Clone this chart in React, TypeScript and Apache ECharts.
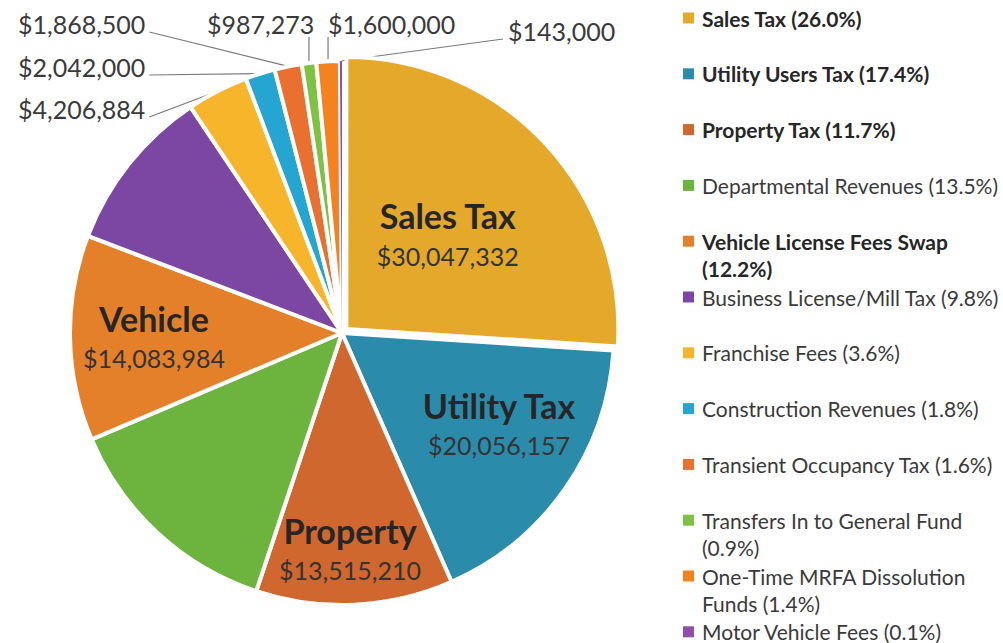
import React, { useEffect, useRef } from "react";
import * as echarts from "echarts";

// ---------- data ----------
const categories = [
  "Sales Tax",
  "Utility Users Tax",
  "Property Tax",
  "Departmental Revenues",
  "Vehicle License Fees Swap",
  "Business License/Mill Tax",
  "Franchise Fees",
  "Construction Revenues",
  "Transient Occupancy Tax",
  "Transfers In to General Fund",
  "One-Time MRFA Dissolution Funds",
  "Motor Vehicle Fees",
];
const values = [
  30047332, 20056157, 13515210, 15590000, 14083984, 11310000, 4206884, 2042000,
  1868500, 987273, 1600000, 143000,
];
const legendPercents = [
  "26.0%", "17.4%", "11.7%", "13.5%", "12.2%", "9.8%", "3.6%", "1.8%", "1.6%",
  "0.9%", "1.4%", "0.1%",
];
// legend text with the original line breaks
const legendLabels = [
  "Sales Tax (26.0%)",
  "Utility Users Tax (17.4%)",
  "Property Tax (11.7%)",
  "Departmental Revenues (13.5%)",
  "Vehicle License Fees Swap\n(12.2%)",
  "Business License/Mill Tax (9.8%)",
  "Franchise Fees (3.6%)",
  "Construction Revenues (1.8%)",
  "Transient Occupancy Tax (1.6%)",
  "Transfers In to General Fund\n(0.9%)",
  "One-Time MRFA Dissolution\nFunds (1.4%)",
  "Motor Vehicle Fees (0.1%)",
];
const legendBold = [true, true, true, false, true, false, false, false, false, false, false, false];
// short names written inside the big slices ("" = none)
const sliceNames = ["Sales Tax", "Utility Tax", "Property", "", "Vehicle", "", "", "", "", "", "", ""];
// which slices carry a label: "inside", "outside" or "none"
const labelKinds = [
  "inside", "inside", "inside", "none", "inside", "none",
  "outside", "outside", "outside", "outside", "outside", "outside",
];

// ---------- styles / layout ----------
const colors = [
  "#E4A92A", "#2B8BAB", "#D0672F", "#6DB43F", "#E5802A", "#7B47A2",
  "#F7B52B", "#24A5D2", "#E9702F", "#7DC243", "#F4821F", "#8E4FA8",
];
const FONT = "Lato";
const CENTER = [342, 333];
const RADIUS = 272;

// label placement (layout only)
const labelSpots: Record<number, any> = {
  0: { x: 484, y: 228, kind: "inside" },
  1: { x: 499, y: 423, kind: "inside" },
  2: { x: 350, y: 548, kind: "inside" },
  4: { x: 154, y: 336, kind: "inside" },
  6: { x: 18, y: 109, kind: "outside", anchor: "right" },
  7: { x: 18, y: 67, kind: "outside", anchor: "right" },
  8: { x: 18, y: 24, kind: "outside", anchor: "right" },
  9: { x: 207, y: 24, kind: "outside", anchor: "below" },
  10: { x: 328, y: 24, kind: "outside", anchor: "below" },
  11: { x: 508, y: 31, kind: "outside", anchor: "left" },
};

const fmtMoney = (v: number) => "$" + v.toLocaleString("en-US");

export default function App() {
  const ref = useRef<HTMLDivElement>(null);

  useEffect(() => {
    if (!ref.current) return;
    const chart = echarts.init(ref.current, undefined, { renderer: "svg" });

    const rich = {
      n: { fontFamily: FONT, fontSize: 34, fontWeight: "bold", color: "#262626", lineHeight: 44 },
      v: { fontFamily: FONT, fontSize: 25, color: "#333333", lineHeight: 36 },
    };

    const data = categories.map((name, i) => {
      const item: any = {
        name,
        value: values[i],
        itemStyle: { color: colors[i] },
      };
      if (i === 0) item.selected = true;
      if (i === categories.length - 1) item.itemStyle.borderWidth = 0;
      const kind = labelKinds[i];
      if (kind === "inside") {
        item.label = {
          show: true,
          position: "inside",
          formatter: `{n|${sliceNames[i]}}\n{v|${fmtMoney(values[i])}}`,
          rich,
        };
        item.labelLine = { show: false };
      } else if (kind === "none") {
        item.label = { show: false };
        item.labelLine = { show: false };
      }
      return item;
    });

    const legendGraphics: any[] = [];
    const rowTop = 18;
    const rowPitch = 55.8;
    legendLabels.forEach((txt, i) => {
      const cy = rowTop + i * rowPitch;
      legendGraphics.push({
        type: "rect",
        silent: true,
        shape: { x: 683, y: cy - 5.5, width: 11, height: 11 },
        style: { fill: colors[i] },
      });
      legendGraphics.push({
        type: "text",
        silent: true,
        x: 702,
        y: cy - 13.5,
        style: {
          text: txt,
          fontFamily: FONT,
          fontSize: 21,
          fontWeight: legendBold[i] ? "bold" : "normal",
          fill: legendBold[i] ? "#262626" : "#3a3a3a",
          lineHeight: 27,
          verticalAlign: "top",
          textVerticalAlign: "top",
          align: "left",
          textAlign: "left",
        },
      });
    });

    const option: any = {
      animation: false,
      backgroundColor: "#ffffff",
      graphic: legendGraphics,
      series: [
        {
          type: "pie",
          center: CENTER,
          radius: RADIUS,
          startAngle: 90,
          clockwise: true,
          selectedMode: "single",
          selectedOffset: 6,
          avoidLabelOverlap: false,
          emphasis: { disabled: true },
          itemStyle: { borderColor: "#ffffff", borderWidth: 4 },
          label: {
            show: true,
            position: "outside",
            formatter: (p: any) => fmtMoney(p.value),
            fontFamily: FONT,
            fontSize: 25,
            color: "#3a3a3a",
          },
          labelLine: {
            show: true,
            length: 10,
            length2: 10,
            lineStyle: { color: "#7a7a7a", width: 1.2 },
          },
          labelLayout: (params: any) => {
            const spot = labelSpots[params.dataIndex];
            if (!spot) return {};
            if (spot.kind === "inside") {
              return { x: spot.x, y: spot.y, align: "center", verticalAlign: "middle" };
            }
            const w = params.labelRect.width;
            const pts = params.labelLinePoints;
            const out: any = { x: spot.x, y: spot.y, align: "left", verticalAlign: "middle" };
            if (pts && pts.length) {
              const p0 = pts[0];
              let end: number[];
              if (spot.anchor === "right") end = [spot.x + w + 4, spot.y + 8];
              else if (spot.anchor === "left") end = [spot.x - 5, spot.y + 8];
              else end = [p0[0], spot.y + 13];
              out.labelLinePoints = [p0, end];
            }
            return out;
          },
          data,
        },
      ],
    };

    chart.setOption(option);
    return () => chart.dispose();
  }, []);

  return (
    <div
      ref={ref}
      style={{ position: "fixed", left: 0, top: 0, width: 1003, height: 643, background: "#fff" }}
    />
  );
}
